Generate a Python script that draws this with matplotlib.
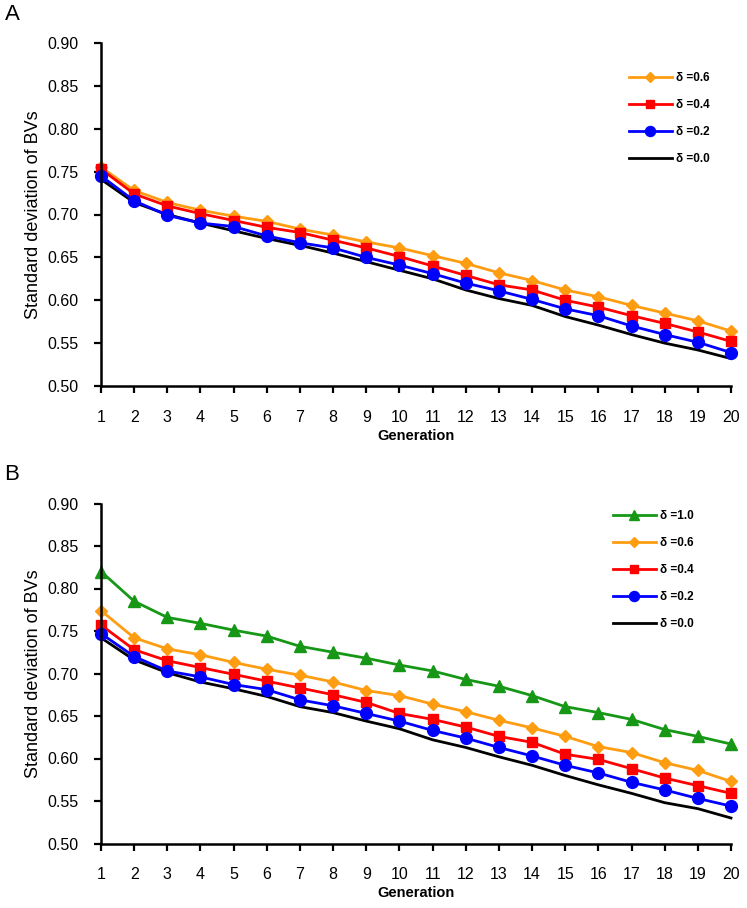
import matplotlib
matplotlib.use("Agg")
import matplotlib.pyplot as plt

plt.rcParams['font.family'] = ['Liberation Sans', 'DejaVu Sans']

generations = list(range(1, 21))

# Panel A
a_d06 = [0.755, 0.728, 0.714, 0.705, 0.698, 0.692, 0.683, 0.676, 0.668, 0.661,
         0.652, 0.643, 0.632, 0.623, 0.612, 0.604, 0.594, 0.585, 0.576, 0.564]
a_d04 = [0.753, 0.724, 0.710, 0.701, 0.693, 0.685, 0.679, 0.670, 0.661, 0.651,
         0.640, 0.629, 0.618, 0.612, 0.600, 0.592, 0.582, 0.573, 0.563, 0.552]
a_d02 = [0.745, 0.716, 0.699, 0.690, 0.686, 0.675, 0.667, 0.661, 0.650, 0.641,
         0.631, 0.620, 0.611, 0.601, 0.590, 0.582, 0.570, 0.560, 0.551, 0.539]
a_d00 = [0.741, 0.714, 0.700, 0.690, 0.681, 0.672, 0.664, 0.655, 0.645, 0.635,
         0.625, 0.612, 0.602, 0.594, 0.581, 0.571, 0.560, 0.550, 0.542, 0.532]

# Panel B
b_d10 = [0.820, 0.785, 0.766, 0.759, 0.751, 0.744, 0.732, 0.725, 0.718, 0.710,
         0.703, 0.693, 0.685, 0.674, 0.661, 0.654, 0.646, 0.634, 0.626, 0.617]
b_d06 = [0.774, 0.742, 0.729, 0.722, 0.713, 0.705, 0.698, 0.690, 0.680, 0.674,
         0.664, 0.655, 0.645, 0.636, 0.626, 0.614, 0.607, 0.595, 0.586, 0.573]
b_d04 = [0.757, 0.728, 0.715, 0.707, 0.699, 0.691, 0.683, 0.675, 0.666, 0.653,
         0.646, 0.637, 0.626, 0.619, 0.605, 0.599, 0.588, 0.577, 0.568, 0.559]
b_d02 = [0.747, 0.720, 0.703, 0.696, 0.687, 0.681, 0.669, 0.662, 0.653, 0.644,
         0.633, 0.624, 0.613, 0.603, 0.592, 0.583, 0.572, 0.563, 0.553, 0.544]
b_d00 = [0.742, 0.716, 0.701, 0.690, 0.682, 0.673, 0.661, 0.654, 0.644, 0.635,
         0.622, 0.613, 0.602, 0.592, 0.580, 0.569, 0.559, 0.548, 0.541, 0.530]

GREEN = '#169816'
ORANGE = '#FF9D12'
RED = '#FF0000'
BLUE = '#0000FF'


def style_axes(ax):
    ax.set_xlim(1, 20)
    ax.set_ylim(0.50, 0.90)
    ax.set_xticks(generations)
    ax.set_yticks([0.50, 0.55, 0.60, 0.65, 0.70, 0.75, 0.80, 0.85, 0.90])
    ax.yaxis.set_major_formatter(matplotlib.ticker.FormatStrFormatter('%.2f'))
    for s in ['top', 'right']:
        ax.spines[s].set_visible(False)
    for s in ['left', 'bottom']:
        ax.spines[s].set_linewidth(1.8)
    ax.tick_params(width=1.6, length=5, labelsize=11.5, pad=11)
    ax.tick_params(axis='x', pad=12)
    ax.set_ylabel('Standard deviation of BVs', fontsize=13, labelpad=4)
    ax.set_xlabel('Generation', fontsize=10.5, fontweight='bold', labelpad=3)


def draw(ax, series):
    for vals, color, marker, ms, label in series:
        if marker is None:
            ax.plot(generations, vals, color='black', lw=2, label=label,
                    zorder=1.5, clip_on=False)
        else:
            ax.plot(generations, vals, color=color, lw=2, marker=marker,
                    markersize=ms, label=label, clip_on=False)


def add_legend(ax, x, y):
    ax.legend(loc='upper left', bbox_to_anchor=(x / W, 1 - y / H),
              bbox_transform=fig.transFigure, frameon=False, borderpad=0,
              borderaxespad=0, handlelength=3.6, handletextpad=0.4,
              labelspacing=1.28, markerscale=0.85,
              prop={'size': 8.5, 'weight': 'bold'})


fig = plt.figure(figsize=(7.47, 9.08), dpi=100)
W, H = 747, 908

axA = fig.add_axes([101 / W, 1 - 386 / H, 630 / W, 343 / H])
draw(axA, [
    (a_d06, ORANGE, 'D', 6.5, 'δ =0.6'),
    (a_d04, RED, 's', 7.5, 'δ =0.4'),
    (a_d02, BLUE, 'o', 8.5, 'δ =0.2'),
    (a_d00, None, None, 0, 'δ =0.0'),
])
style_axes(axA)
add_legend(axA, 629, 72)

axB = fig.add_axes([101 / W, 1 - 843.5 / H, 630 / W, 340 / H])
draw(axB, [
    (b_d10, GREEN, '^', 8, 'δ =1.0'),
    (b_d06, ORANGE, 'D', 6.5, 'δ =0.6'),
    (b_d04, RED, 's', 7.5, 'δ =0.4'),
    (b_d02, BLUE, 'o', 8.5, 'δ =0.2'),
    (b_d00, None, None, 0, 'δ =0.0'),
])
style_axes(axB)
add_legend(axB, 613, 510)

fig.text(5 / W, 1 - 14 / H, 'A', fontsize=16, va='center', ha='left')
fig.text(4 / W, 1 - 475 / H, 'B', fontsize=16, va='center', ha='left')

fig.savefig('out.png', dpi=100)
